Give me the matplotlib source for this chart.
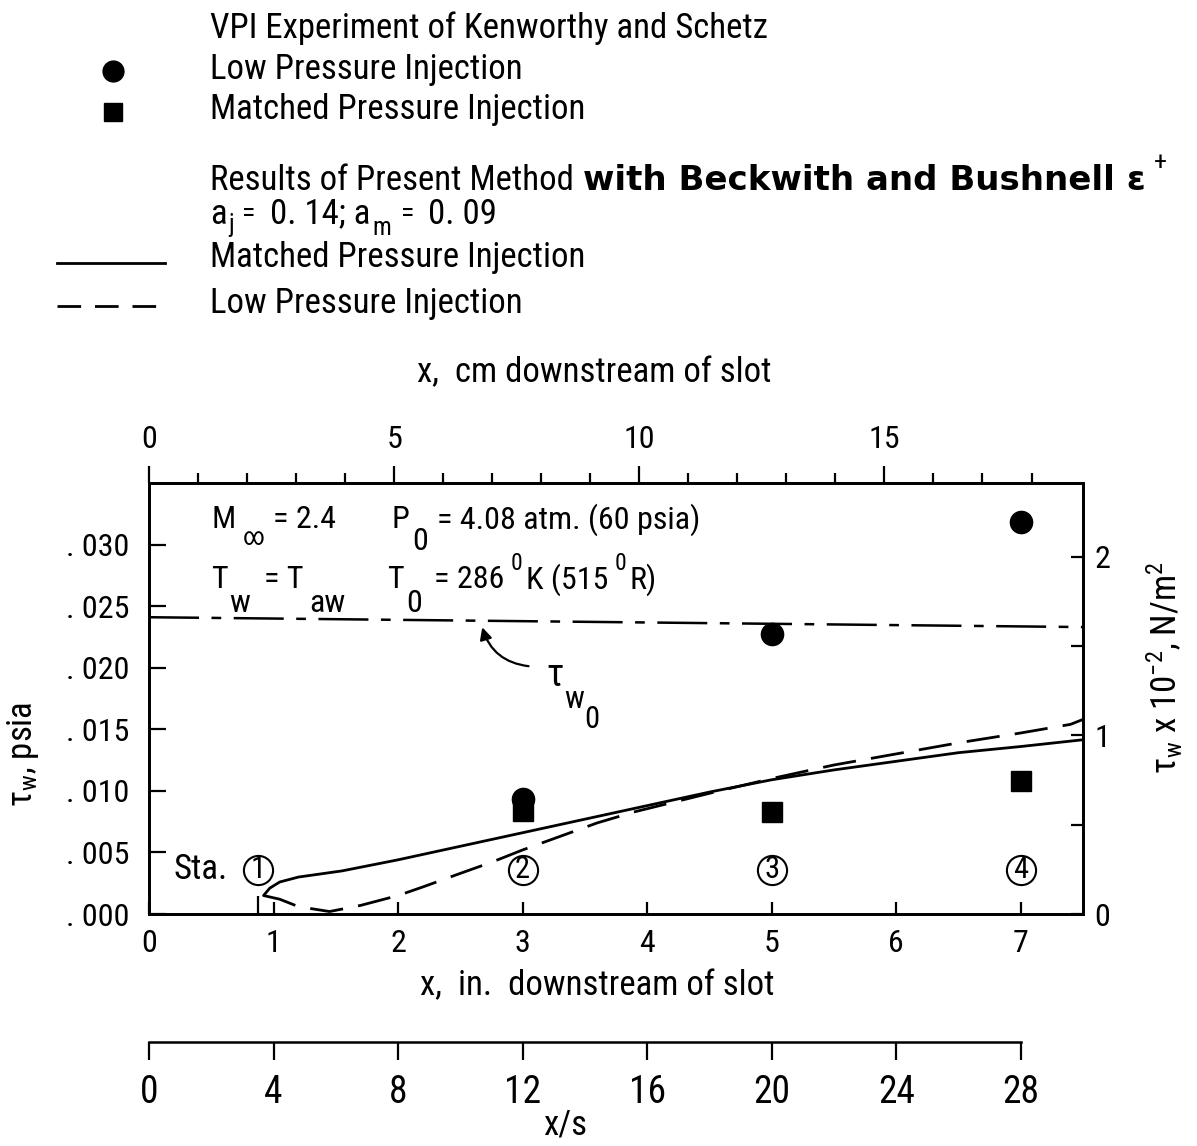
import os
import matplotlib
matplotlib.use('Agg')
import matplotlib.pyplot as plt
from matplotlib import font_manager as fm

# ---------------- fonts ----------------
_cond = None
_cond_name = None
for f in fm.fontManager.ttflist:
    fn = os.path.basename(f.fname).lower()
    if fn.startswith('robotocondensed-regular'):
        _cond, _cond_name = f.fname, f.name
        break
if _cond is None:
    for f in fm.fontManager.ttflist:
        if ('Condensed' in f.name or 'Narrow' in f.name) and f.style == 'normal':
            _cond, _cond_name = f.fname, f.name
            break
FAM = _cond_name if _cond_name else 'DejaVu Sans'

plt.rcParams['font.family'] = [FAM, 'DejaVu Sans']
plt.rcParams['mathtext.fontset'] = 'custom'
plt.rcParams['mathtext.rm'] = FAM
plt.rcParams['mathtext.it'] = FAM
plt.rcParams['mathtext.bf'] = FAM + ':bold'
plt.rcParams['mathtext.default'] = 'regular'
plt.rcParams['lines.scale_dashes'] = False

# ---------------- data ----------------
x_in_ticks = [0, 1, 2, 3, 4, 5, 6, 7]
tau_ticks = [0.000, 0.005, 0.010, 0.015, 0.020, 0.025, 0.030]
tau_tick_labels = ['. 000', '. 005', '. 010', '. 015', '. 020', '. 025', '. 030']
cm_major = [0, 5, 10, 15]
cm_minor = list(range(1, 19))
nm_ticks = [0, 0.5, 1, 1.5, 2]
nm_labels = ['0', '', '1', '', '2']
xs_ticks = [0, 4, 8, 12, 16, 20, 24, 28]

sta_x = [0.875, 3, 5, 7]
sta_labels = ['1', '2', '3', '4']

low_x = [3, 5, 7]
low_tau = [0.0093, 0.0227, 0.0318]
matched_x = [3, 5, 7]
matched_tau = [0.0084, 0.0083, 0.0108]

matched_curve_x = [0.92, 0.97, 1.05, 1.2, 1.55, 2.0, 2.5, 3.0, 3.5, 4.0,
                   4.5, 5.0, 5.5, 6.0, 6.5, 7.0, 7.5]
matched_curve_tau = [0.0015, 0.0021, 0.0026, 0.0030, 0.0035, 0.0044, 0.0055,
                     0.0066, 0.0077, 0.0088, 0.0099, 0.0109, 0.0117, 0.0124,
                     0.0131, 0.0136, 0.01415]
low_curve_x = [0.92, 1.05, 1.2, 1.45, 1.7, 2.0, 2.2, 2.5, 2.75, 3.0, 3.3,
               3.6, 3.9, 4.1, 4.5, 5.0, 5.5, 6.0, 6.5, 7.0, 7.4, 7.5]
low_curve_tau = [0.0015, 0.0012, 0.0006, 0.0002, 0.0007, 0.0015, 0.0022,
                 0.0033, 0.0042, 0.0052, 0.0063, 0.0074, 0.0083, 0.0088,
                 0.0098, 0.0110, 0.0121, 0.0130, 0.0139, 0.0147, 0.0154,
                 0.0158]
tau0_x = [0.0, 7.5]
tau0_tau = [0.0241, 0.0233]

PSI_TO_HNM = 6894.757 / 100.0
IN_TO_CM = 2.54
S_IN = 0.25

# ---------------- figure ----------------
W, H = 1197, 1146
fig = plt.figure(figsize=(W / 100, H / 100), dpi=100)


def box(l, t, r, b):
    return [l / W, 1 - b / H, (r - l) / W, (b - t) / H]


ov = fig.add_axes([0, 0, 1, 1], zorder=0)
ov.set_xlim(0, W)
ov.set_ylim(H, 0)
ov.axis('off')
ov.patch.set_alpha(0)


def chain(x0, pieces):
    """pieces: (text, y_pix, fontsize, gap_px, weight[, family])"""
    prev = None
    for piece in pieces:
        txt, y, fsz, gap, wt = piece[:5]
        fam = piece[5] if len(piece) > 5 else None
        kw = dict(fontsize=fsz, va='center', ha='left', fontweight=wt)
        if fam:
            kw['family'] = fam
        if prev is None:
            t = ov.text(x0 + gap, y, txt, **kw)
        else:
            t = ov.annotate(txt, xy=(1, y), xycoords=(prev, 'data'),
                            xytext=(gap, 0), textcoords='offset pixels', **kw)
        prev = t


ax = fig.add_axes(box(149, 483, 1083, 914), zorder=2)
ax.patch.set_alpha(0)
ax.set_xlim(0, 7.5)
ax.set_ylim(0, 0.035)
for s in ax.spines.values():
    s.set_linewidth(1.8)

ax.set_xticks(x_in_ticks)
ax.set_xticklabels([str(v) for v in x_in_ticks])
ax.set_xticks(sta_x, minor=True)
ax.set_yticks(tau_ticks)
ax.set_yticklabels(tau_tick_labels)
ax.tick_params(axis='x', which='major', direction='in', length=9, width=1.6,
               pad=11, top=False, labelsize=23)
ax.tick_params(axis='x', which='minor', direction='in', length=13, width=1.6,
               top=False)
ax.tick_params(axis='y', which='major', direction='in', length=12, width=1.6,
               pad=14, right=False, labelsize=23)

axr = ax.twinx()
axr.set_ylim(0, 0.035 * PSI_TO_HNM)
axr.set_yticks(nm_ticks)
axr.set_yticklabels(nm_labels)
axr.tick_params(axis='y', direction='in', length=9, width=1.6, pad=8,
                labelsize=23)
for s in axr.spines.values():
    s.set_linewidth(1.8)

axt = ax.twiny()
axt.set_xlim(0, 7.5 * IN_TO_CM)
axt.set_xticks(cm_major)
axt.set_xticks(cm_minor, minor=True)
axt.set_xticklabels([str(v) for v in cm_major])
axt.tick_params(axis='x', which='major', direction='out', length=12,
                width=1.6, pad=9, labelsize=23)
axt.tick_params(axis='x', which='minor', direction='out', length=7, width=1.6)
for s in axt.spines.values():
    s.set_linewidth(1.8)

axs = fig.add_axes(box(149, 1000, 1083, 1042), zorder=1)
axs.patch.set_alpha(0)
axs.set_xlim(0, 7.5 / S_IN)
axs.set_yticks([])
for k in ['top', 'left', 'right']:
    axs.spines[k].set_visible(False)
axs.spines['bottom'].set_bounds(0, 28)
axs.spines['bottom'].set_linewidth(1.8)
axs.set_xticks(xs_ticks)
axs.set_xticklabels([str(v) for v in xs_ticks])
axs.tick_params(axis='x', direction='out', length=13, width=1.6, pad=10,
                labelsize=27)

# ---------------- data marks ----------------
ax.plot(matched_curve_x, matched_curve_tau, color='black', lw=2.0,
        solid_capstyle='round')
ax.plot(low_curve_x, low_curve_tau, color='black', lw=2.0,
        linestyle=(0, (24, 11)))
ax.plot(tau0_x, tau0_tau, color='black', lw=1.8,
        linestyle=(0, (36, 9, 7, 9)))
ax.plot(low_x, low_tau, 'o', color='black', ms=16, zorder=5)
ax.plot(matched_x, matched_tau, 's', color='black', ms=14, zorder=5)

ax.plot(sta_x, [0.0036] * len(sta_x), 'o', ms=21, mfc='none', mec='black',
        mew=1.5)
for xv, lab in zip(sta_x, sta_labels):
    ax.text(xv, 0.0036, lab, ha='center', va='center', fontsize=22)
ax.text(0.2, 0.0036, 'Sta.', ha='left', va='center', fontsize=25)

ax.annotate('', xy=(2.67, 0.0235), xytext=(3.07, 0.0201),
            arrowprops=dict(arrowstyle='-|>', color='black', lw=1.6,
                            mutation_scale=18,
                            connectionstyle='arc3,rad=-0.35'))
ov.text(546, 676, '\u03c4', fontsize=27, ha='left', va='center')
ov.text(564, 700, 'w', fontsize=22, ha='left', va='center')
ov.text(584, 719, '0', fontsize=22, ha='left', va='center')

fs = 23
chain(211, [('M', 520, fs, 0, 'normal'), ('\u221e', 538, 18, 8, 'normal'),
            ('= 2.4', 520, fs, 8, 'normal')])
chain(391, [('P', 520, fs, 0, 'normal'), ('0', 541, fs, 3, 'normal'),
            ('= 4.08 atm. (60 psia)', 520, fs, 9, 'normal')])
chain(211, [('T', 580, fs, 0, 'normal'), ('w', 603, fs, 2, 'normal'),
            ('= T', 580, fs, 14, 'normal'), ('aw', 603, fs, 5, 'normal')])
chain(387, [('T', 580, fs, 0, 'normal'), ('0', 603, fs, 3, 'normal'),
            ('= 286', 580, fs, 11, 'normal'), ('0', 563, 17, 7, 'normal'),
            ('K (515', 580, fs, 3, 'normal'), ('0', 563, 17, 7, 'normal'),
            ('R)', 580, fs, 3, 'normal')])

# axis labels
ov.text(597, 986, 'x,  in.  downstream of slot', fontsize=25, ha='center',
        va='center')
ov.text(594, 373, 'x,  cm downstream of slot', fontsize=25, ha='center',
        va='center')
ov.text(565, 1125, 'x/s', fontsize=25, ha='center', va='center')
ov.text(23, 754, r'$\tau_{w}$, psia', fontsize=25, ha='center', va='center',
        rotation=90)
ov.text(1165, 668, r'$\tau_{w}$ x 10$^{-2}$, N/m$^{2}$', fontsize=25,
        ha='center', va='center', rotation=90)

# ---------------- legend block ----------------
lfs = 25
ov.text(210, 28, 'VPI Experiment of Kenworthy and Schetz', fontsize=lfs,
        va='center')
ov.plot([113], [71], 'o', color='black', ms=15)
ov.text(210, 70, 'Low Pressure Injection', fontsize=lfs, va='center')
ov.plot([113], [112], 's', color='black', ms=13)
ov.text(210, 110, 'Matched Pressure Injection', fontsize=lfs, va='center')
chain(210, [('Results of Present Method', 180, lfs, 0, 'normal'),
            ('with Beckwith and Bushnell \u03b5', 180, 24.5, 9, 'bold',
             'DejaVu Sans'),
            ('+', 163, 19, 8, 'normal')])
chain(210, [('a', 214, lfs, 0, 'normal'), ('j', 225, 18, 2, 'normal'),
            ('=', 214, 20, 8, 'normal'), ('0. 14; a', 214, lfs, 14, 'normal'),
            ('m', 228, 18, 2, 'normal'), ('=', 214, 20, 10, 'normal'),
            ('0. 09', 214, lfs, 14, 'normal')])
ov.plot([57, 165], [263, 263], color='black', lw=2.0)
ov.text(210, 258, 'Matched Pressure Injection', fontsize=lfs, va='center')
ov.plot([57, 165], [306, 306], color='black', lw=2.0,
        linestyle=(0, (17, 10)))
ov.text(210, 304, 'Low Pressure Injection', fontsize=lfs, va='center')

fig.savefig('out.png', dpi=100)
